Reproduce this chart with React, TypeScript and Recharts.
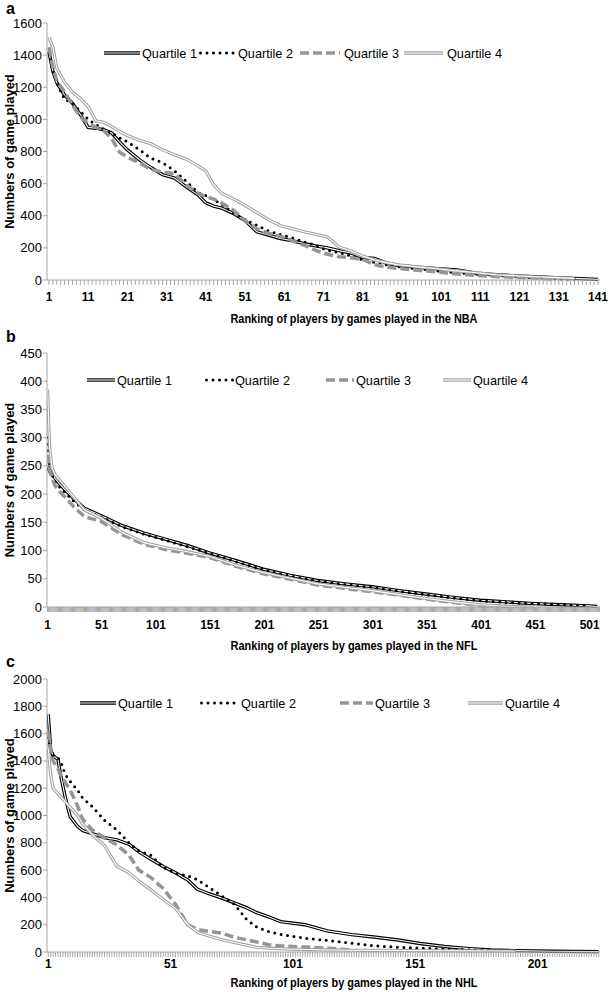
import React from 'react'
import { LineChart, Line, XAxis, YAxis, Legend, Label } from 'recharts'

const FONT = '"Liberation Sans", Arial, Helvetica, sans-serif'

const quartileNames = ['Quartile 1', 'Quartile 2', 'Quartile 3', 'Quartile 4']

// a: NBA
const nbaCount = 141
const nbaLabels = [1, 11, 21, 31, 41, 51, 61, 71, 81, 91, 101, 111, 121, 131, 141]
const nbaRank = [1, 2, 3, 5, 7, 9, 11, 13, 15, 17, 19, 21, 24, 27, 30, 33, 36, 39, 41, 43, 45, 48, 51, 54, 57, 60, 63, 66, 69, 72, 75, 78, 81, 84, 87, 90, 95, 100, 105, 110, 115, 120, 125, 130, 135, 141]
const nbaQ1 = [1420, 1300, 1230, 1150, 1100, 1030, 950, 945, 935, 915, 860, 810, 750, 700, 655, 635, 580, 530, 480, 460, 448, 415, 370, 300, 280, 258, 245, 227, 212, 200, 183, 168, 140, 135, 105, 90, 80, 70, 63, 42, 33, 26, 20, 15, 10, 4]
const nbaQ2 = [1410, 1300, 1225, 1125, 1100, 1050, 1000, 968, 938, 915, 885, 860, 812, 758, 730, 680, 615, 545, 525, 500, 470, 420, 375, 340, 305, 283, 262, 238, 215, 185, 170, 150, 126, 110, 95, 83, 70, 56, 45, 36, 28, 20, 14, 8, 4, null]
const nbaQ3 = [1450, 1320, 1240, 1170, 1090, 1015, 975, 950, 930, 880, 795, 765, 730, 688, 672, 662, 590, 540, 520, 503, 480, 435, 368, 320, 290, 272, 245, 218, 185, 160, 145, 138, 128, 95, 80, 72, 60, 50, 38, 28, 22, 17, 12, 6, null, null]
const nbaQ4 = [1510, 1450, 1320, 1230, 1170, 1130, 1080, 990, 982, 955, 925, 900, 870, 848, 810, 780, 752, 710, 680, 592, 540, 505, 465, 420, 376, 338, 320, 300, 285, 268, 205, 180, 150, 125, 108, 95, 82, 70, 57, 45, 33, 26, 20, 15, 10, null]
const nbaYTicks = [0, 200, 400, 600, 800, 1000, 1200, 1400, 1600]

// b: NFL
const nflCount = 510
const nflLabels = [1, 51, 101, 151, 201, 251, 301, 351, 401, 451, 501]
const nflRank = [1, 2, 3, 5, 8, 12, 17, 25, 35, 50, 70, 90, 110, 130, 150, 175, 200, 225, 250, 275, 300, 325, 350, 375, 400, 425, 450, 475, 500, 508]
const nflQ1 = [250, 245, 240, 236, 228, 218, 208, 192, 175, 162, 144, 131, 120, 109, 96, 82, 67, 56, 47, 41, 36, 29, 23, 17, 12, 9, 6, 4, 2, 1]
const nflQ2 = [300, 268, 248, 235, 222, 213, 203, 188, 172, 160, 142, 129, 118, 107, 95, 80, 66, 55, 46, 40, 35, 28, 22, 16, 11, 8, 6, 4, 2, null]
const nflQ3 = [270, 255, 242, 228, 215, 205, 195, 178, 160, 152, 128, 111, 102, 95, 88, 72, 59, 49, 39, 33, 27, 21, 14, 8, 3, 1, null, null, null, null]
const nflQ4 = [385, 330, 282, 248, 234, 225, 214, 195, 172, 158, 132, 114, 105, 98, 90, 74, 61, 51, 41, 35, 29, 22, 15, 9, 4, 1, 0, null, null, null]
const nflYTicks = [0, 50, 100, 150, 200, 250, 300, 350, 400, 450]

// c: NHL
const nhlCount = 226
const nhlLabels = [1, 51, 101, 151, 201]
const nhlRank = [1, 2, 3, 5, 6, 8, 10, 13, 15, 19, 24, 29, 34, 38, 43, 48, 53, 58, 62, 67, 72, 77, 82, 86, 91, 96, 106, 115, 125, 134, 144, 153, 163, 173, 182, 192, 207, 226]
const nhlQ1 = [1740, 1480, 1440, 1410, 1300, 1130, 990, 920, 890, 868, 838, 822, 790, 735, 680, 626, 580, 528, 460, 425, 395, 360, 325, 290, 258, 222, 200, 155, 127, 110, 88, 62, 40, 25, 15, 10, 6, 3]
const nhlQ2 = [1570, 1450, 1435, 1420, 1400, 1300, 1250, 1185, 1130, 1065, 965, 895, 800, 740, 708, 620, 577, 558, 530, 470, 410, 350, 240, 185, 150, 128, 100, 85, 65, 45, 35, 28, 22, 16, 12, 10, null, null]
const nhlQ3 = [1620, 1480, 1400, 1340, 1300, 1240, 1187, 1070, 975, 895, 835, 785, 710, 600, 545, 465, 350, 200, 165, 150, 138, 108, 90, 75, 53, 45, 36, 28, 15, null, null, null, null, null, null, null, null, null]
const nhlQ4 = [1490, 1300, 1200, 1160, 1140, 1100, 1060, 1000, 940, 860, 780, 630, 580, 520, 455, 385, 320, 200, 145, 115, 90, 70, 50, 35, 28, 24, 18, 15, 13, 12, 11, 10, 9, 8, 7, 6, null, null]
const nhlYTicks = [0, 200, 400, 600, 800, 1000, 1200, 1400, 1600, 1800, 2000]

const BLACK = '#000000'
const GRAY_DASH = '#959595'
const GRAY_LINE = '#a0a0a0'
const AXIS = '#a6a6a6'
const AXIS_X = 47

function buildRows(rank: number[], q1: any[], q2: any[], q3: any[], q4: any[]) {
  return rank.map((r, i) => ({ rank: r, q1: q1[i], q2: q2[i], q3: q3[i], q4: q4[i] }))
}

function LegendRow({ pos }: { pos: number[][] }) {
  const y = 10
  return (
    <svg width={609} height={20} style={{ display: 'block' }}>
      {pos.map((p, i) => {
        const [x1, x2, tx] = p
        let sample: React.ReactNode = null
        if (i === 0 || i === 3) {
          const c = i === 0 ? BLACK : GRAY_LINE
          sample = (
            <g>
              <line x1={x1} x2={x2} y1={y} y2={y} stroke={c} strokeWidth={3.4} />
              <line x1={x1} x2={x2} y1={y} y2={y} stroke="#fff" strokeWidth={1.1} />
            </g>
          )
        } else if (i === 1) {
          sample = <line x1={x1 + 1.5} x2={x2} y1={y} y2={y} stroke={BLACK} strokeWidth={3} strokeDasharray="0 6.5" strokeLinecap="round" />
        } else {
          sample = <line x1={x1} x2={x2} y1={y} y2={y} stroke={GRAY_DASH} strokeWidth={3.5} strokeDasharray="9 4" />
        }
        return (
          <g key={i}>
            {sample}
            <text x={tx} y={y + 4.5} fontSize={13} fontFamily={FONT} fill="#000" textLength={55} lengthAdjust="spacingAndGlyphs">
              {quartileNames[i]}
            </text>
          </g>
        )
      })}
    </svg>
  )
}

type PanelProps = {
  top: number
  height: number
  plotTop: number
  plotBottom: number
  rows: any[]
  count: number
  labels: number[]
  yTicks: number[]
  xTitle: string
  titleY: number
  tickDy: number
  yTitleCy: number
  legendY: number
  legendPos: number[][]
}

function Panel(p: PanelProps) {
  const allTicks = Array.from({ length: p.count }, (_, i) => i + 1)
  const xTick = (props: any) => {
    const { x, y, payload } = props
    if (!p.labels.includes(payload.value)) return <g />
    return (
      <text transform={`translate(${x},${y + p.tickDy}) scale(0.92,1)`} textAnchor="middle" fontSize={13} fontWeight="bold" fontFamily={FONT} fill="#000">
        {payload.value}
      </text>
    )
  }
  const yTick = (props: any) => {
    const { x, y, payload } = props
    return (
      <text transform={`translate(${x + 1},${y + 4.5})`} textAnchor="end" fontSize={13} fontFamily={FONT} fill="#000">
        {payload.value}
      </text>
    )
  }
  const yMax = p.yTicks[p.yTicks.length - 1]
  return (
    <div style={{ position: 'absolute', left: 0, top: p.top }}>
      <LineChart width={609} height={p.height} data={p.rows} margin={{ top: p.plotTop, right: 9, bottom: 0, left: 0 }}>
        <XAxis
          type="number"
          dataKey="rank"
          domain={[0.5, p.count + 0.5]}
          ticks={allTicks}
          interval={0}
          tick={xTick}
          tickLine={{ stroke: AXIS }}
          axisLine={{ stroke: AXIS }}
          tickSize={5}
          height={p.height - p.plotBottom}
          allowDataOverflow
        >
          <Label
            content={() => (
              <text x={354} y={p.titleY} textAnchor="middle" fontSize={13} fontWeight="bold" fontFamily={FONT} fill="#000" textLength={247} lengthAdjust="spacingAndGlyphs">
                {p.xTitle}
              </text>
            )}
          />
        </XAxis>
        <YAxis
          type="number"
          domain={[0, yMax]}
          ticks={p.yTicks}
          interval={0}
          tick={yTick}
          tickLine={{ stroke: AXIS }}
          axisLine={{ stroke: AXIS }}
          tickSize={4}
          width={AXIS_X}
        >
          <Label
            content={() => (
              <text transform={`translate(13.5,${p.yTitleCy}) rotate(-90)`} textAnchor="middle" fontSize={13} fontWeight="bold" fontFamily={FONT} fill="#000">
                Numbers of game played
              </text>
            )}
          />
        </YAxis>
        <Legend
          layout="horizontal"
          verticalAlign="middle"
          align="center"
          wrapperStyle={{ top: p.legendY - 10, left: 0, width: 609, height: 20 }}
          content={() => <LegendRow pos={p.legendPos} />}
        />
        <Line type="linear" dataKey="q1" stroke={BLACK} strokeWidth={3.4} dot={false} activeDot={false} isAnimationActive={false} />
        <Line type="linear" dataKey="q1" stroke="#fff" strokeWidth={1.1} dot={false} activeDot={false} isAnimationActive={false} />
        <Line type="linear" dataKey="q2" stroke={BLACK} strokeWidth={3} strokeDasharray="0 6.5" strokeLinecap="round" dot={false} activeDot={false} isAnimationActive={false} />
        <Line type="linear" dataKey="q3" stroke={GRAY_DASH} strokeWidth={3.5} strokeDasharray="9 4" dot={false} activeDot={false} isAnimationActive={false} />
        <Line type="linear" dataKey="q4" stroke={GRAY_LINE} strokeWidth={3.2} dot={false} activeDot={false} isAnimationActive={false} />
        <Line type="linear" dataKey="q4" stroke="#fff" strokeWidth={1.1} dot={false} activeDot={false} isAnimationActive={false} />
      </LineChart>
    </div>
  )
}

export default function App() {
  return (
    <div style={{ position: 'absolute', left: 0, top: 0, width: 609, height: 992, background: '#fff', overflow: 'hidden' }}>
      <Panel
        top={0}
        height={335}
        plotTop={23}
        plotBottom={280}
        rows={buildRows(nbaRank, nbaQ1, nbaQ2, nbaQ3, nbaQ4)}
        count={nbaCount}
        labels={nbaLabels}
        yTicks={nbaYTicks}
        xTitle="Ranking of players by games played in the NBA"
        titleY={322.5}
        tickDy={14}
        yTitleCy={151.5}
        legendY={53}
        legendPos={[[104, 140, 142], [199, 235, 238], [300, 340, 344], [404, 443, 447]]}
      />
      <Panel
        top={330}
        height={330}
        plotTop={23}
        plotBottom={277}
        rows={buildRows(nflRank, nflQ1, nflQ2, nflQ3, nflQ4)}
        count={nflCount}
        labels={nflLabels}
        yTicks={nflYTicks}
        xTitle="Ranking of players by games played in the NFL"
        titleY={319.5}
        tickDy={15}
        yTitleCy={150}
        legendY={50}
        legendPos={[[87, 115, 117], [205, 233, 235], [326, 354, 356], [443, 471, 473]]}
      />
      <Panel
        top={655}
        height={337}
        plotTop={24}
        plotBottom={297}
        rows={buildRows(nhlRank, nhlQ1, nhlQ2, nhlQ3, nhlQ4)}
        count={nhlCount}
        labels={nhlLabels}
        yTicks={nhlYTicks}
        xTitle="Ranking of players by games played in the NHL"
        titleY={332}
        tickDy={9}
        yTitleCy={160.5}
        legendY={48}
        legendPos={[[80, 116, 118], [200, 238, 241], [340, 373, 375], [468, 503, 505]]}
      />
      <svg width={609} height={992} style={{ position: 'absolute', left: 0, top: 0, pointerEvents: 'none' }}>
        <text x={6} y={14} fontSize={16} fontWeight="bold" fontFamily={FONT}>a</text>
        <text x={6} y={342} fontSize={16} fontWeight="bold" fontFamily={FONT}>b</text>
        <text x={6} y={667} fontSize={16} fontWeight="bold" fontFamily={FONT}>c</text>
      </svg>
    </div>
  )
}
